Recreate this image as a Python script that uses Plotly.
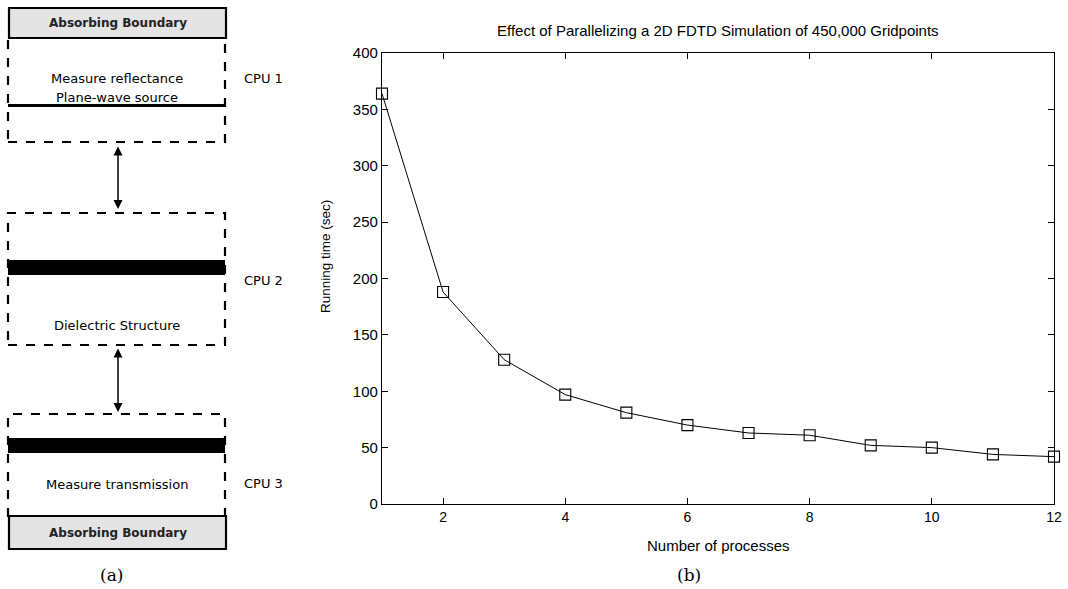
import plotly.graph_objects as go

# ---- data (panel b) ----
processes = [1, 2, 3, 4, 5, 6, 7, 8, 9, 10, 11, 12]
running_time = [364, 188, 128, 97, 81, 70, 63, 61, 52, 50, 44, 42]
x_ticks = [2, 4, 6, 8, 10, 12]
y_ticks = [0, 50, 100, 150, 200, 250, 300, 350, 400]

# ---- diagram labels (panel a) ----
cpu_labels = ["CPU 1", "CPU 2", "CPU 3"]
region_labels = ["Measure reflectance", "Plane-wave source", "Dielectric Structure", "Measure transmission"]
boundary_label = "Absorbing Boundary"
title_text = "Effect of Parallelizing a 2D FDTD Simulation of 450,000 Gridpoints"

W, H = 1068, 589


def px(x):
    return x / W


def py(y):
    return 1 - y / H


def note(x, y, text, size, family="DejaVu Sans", color="black", angle=0):
    return dict(x=px(x), y=py(y), xref="paper", yref="paper", text=text,
                xanchor="center", yanchor="middle", showarrow=False, textangle=angle,
                font=dict(family=family, size=size, color=color))


fig = go.Figure()
fig.add_trace(go.Scatter(
    x=processes, y=running_time, mode="lines+markers",
    line=dict(color="black", width=1),
    marker=dict(symbol="square-open", size=11, color="black", line=dict(width=1.1, color="black")),
    cliponaxis=False, showlegend=False,
))

shapes = []
annotations = []

# absorbing boundaries
for (y0, y1) in [(8, 38), (516, 549)]:
    shapes.append(dict(type="rect", xref="paper", yref="paper",
                       x0=px(9), x1=px(226), y0=py(y1), y1=py(y0),
                       line=dict(color="black", width=2.2), fillcolor="#e4e4e4"))
    annotations.append(note(118, (y0 + y1) / 2, "<b>" + boundary_label + "</b>", 12, color="#222"))

# dashed CPU boxes
boxes = [(38, 142), (213, 345), (414, 516)]
for (y0, y1) in boxes:
    shapes.append(dict(type="rect", xref="paper", yref="paper",
                       x0=px(8), x1=px(225), y0=py(y1), y1=py(y0),
                       line=dict(color="black", width=2.2, dash="dash"), fillcolor="rgba(0,0,0,0)"))

# plane-wave source line
shapes.append(dict(type="line", xref="paper", yref="paper",
                   x0=px(8), x1=px(225), y0=py(105.5), y1=py(105.5),
                   line=dict(color="black", width=3)))
# dielectric bands
for (y0, y1) in [(260, 275), (438, 453)]:
    shapes.append(dict(type="rect", xref="paper", yref="paper",
                       x0=px(8), x1=px(225), y0=py(y1), y1=py(y0),
                       line=dict(width=0), fillcolor="black"))

# region texts
for txt, yy in zip(region_labels, [78, 97, 325, 484]):
    annotations.append(note(117, yy, txt, 13))
for txt, yy in zip(cpu_labels, [78, 280, 483]):
    annotations.append(note(263, yy, txt, 13))

# double arrows
for (y_top, y_bot) in [(145, 209), (347, 412)]:
    annotations.append(dict(x=px(118), y=py(y_bot), xref="paper", yref="paper",
                            ax=0, ay=-(y_bot - y_top), axref="pixel", ayref="pixel",
                            text="", showarrow=True, arrowhead=2, arrowside="end+start",
                            arrowsize=1.2, arrowwidth=1.5, arrowcolor="black"))

# panel captions
annotations.append(note(111, 575, "(a)", 17, family="DejaVu Serif"))
annotations.append(note(689, 575, "(b)", 17, family="DejaVu Serif"))

# chart title and axis titles
annotations.append(note(718, 30, title_text, 15, family="Liberation Sans"))
annotations.append(note(718, 545, "Number of processes", 15, family="Liberation Sans"))
annotations.append(note(325, 257, "Running time (sec)", 13.5, family="Liberation Sans", angle=-90))

fig.update_layout(
    width=W, height=H,
    margin=dict(l=0, r=0, t=0, b=0, autoexpand=False),
    paper_bgcolor="white", plot_bgcolor="white",
    shapes=shapes, annotations=annotations,
    xaxis=dict(domain=[px(382), px(1054)], range=[1, 12], tickvals=x_ticks,
               ticks="inside", ticklen=6, tickcolor="black", showline=True, linecolor="black",
               linewidth=1.2, mirror="ticks", showgrid=False, zeroline=False, automargin=False,
               tickfont=dict(family="Liberation Sans", size=14, color="black")),
    yaxis=dict(domain=[py(504), py(53)], range=[0, 400], tickvals=y_ticks,
               ticks="inside", ticklen=6, tickcolor="black", showline=True, linecolor="black",
               linewidth=1.2, mirror="ticks", showgrid=False, zeroline=False, automargin=False,
               tickfont=dict(family="Liberation Sans", size=15, color="black")),
)

fig.write_html("out.html")
